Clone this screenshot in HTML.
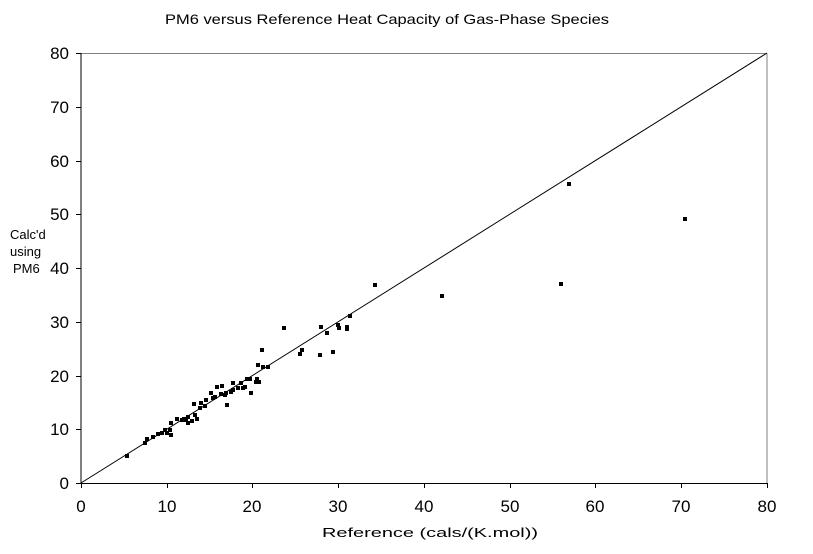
<!DOCTYPE html>
<html><head><style>body{margin:0;background:#fff}svg{display:block}text{font-family:"Liberation Sans",sans-serif;fill:#000}</style></head><body>
<svg width="813" height="554" viewBox="0 0 813 554">
<text x="165" y="24" font-size="14" textLength="444" lengthAdjust="spacingAndGlyphs">PM6 versus Reference Heat Capacity of Gas-Phase Species</text>
<line x1="81" y1="53.5" x2="767" y2="53.5" stroke="#808080"/>
<line x1="767" y1="53.5" x2="767" y2="483" stroke="#808080"/>
<line x1="81" y1="53" x2="81" y2="483.5" stroke="#000"/>
<line x1="81" y1="483.5" x2="767" y2="483.5" stroke="#000"/>
<g stroke="#000">
<line x1="76" y1="53.5" x2="81" y2="53.5"/><line x1="76" y1="107.5" x2="81" y2="107.5"/><line x1="76" y1="161.5" x2="81" y2="161.5"/><line x1="76" y1="214.5" x2="81" y2="214.5"/><line x1="76" y1="268.5" x2="81" y2="268.5"/><line x1="76" y1="322.5" x2="81" y2="322.5"/><line x1="76" y1="376.5" x2="81" y2="376.5"/><line x1="76" y1="429.5" x2="81" y2="429.5"/><line x1="76" y1="483.5" x2="81" y2="483.5"/>
<line x1="81.5" y1="483" x2="81.5" y2="488"/><line x1="167.5" y1="483" x2="167.5" y2="488"/><line x1="252.5" y1="483" x2="252.5" y2="488"/><line x1="338.5" y1="483" x2="338.5" y2="488"/><line x1="424.5" y1="483" x2="424.5" y2="488"/><line x1="510.5" y1="483" x2="510.5" y2="488"/><line x1="595.5" y1="483" x2="595.5" y2="488"/><line x1="681.5" y1="483" x2="681.5" y2="488"/><line x1="767.5" y1="483" x2="767.5" y2="488"/>
<line x1="81" y1="483" x2="767" y2="53"/>
</g>
<g font-size="17" text-anchor="end">
<text x="69" y="59">80</text><text x="69" y="113">70</text><text x="69" y="167">60</text><text x="69" y="220">50</text><text x="69" y="274">40</text><text x="69" y="328">30</text><text x="69" y="382">20</text><text x="69" y="435">10</text><text x="69" y="489">0</text>
</g>
<g font-size="17" text-anchor="middle">
<text x="81" y="512">0</text><text x="167" y="512">10</text><text x="252" y="512">20</text><text x="338" y="512">30</text><text x="424" y="512">40</text><text x="510" y="512">50</text><text x="595" y="512">60</text><text x="681" y="512">70</text><text x="767" y="512">80</text>
</g>
<text x="322" y="537" font-size="13" textLength="216" lengthAdjust="spacingAndGlyphs">Reference (cals/(K.mol))</text>
<text x="10" y="239" font-size="13">Calc'd</text><text x="10" y="256" font-size="13">using</text><text x="13" y="273" font-size="13">PM6</text>
<g fill="#000">
<rect x="125" y="454" width="4" height="4"/><rect x="143" y="441" width="4" height="4"/><rect x="145" y="437" width="4" height="4"/><rect x="151" y="435" width="4" height="4"/><rect x="156" y="432" width="4" height="4"/><rect x="160" y="431" width="4" height="4"/><rect x="163" y="428" width="4" height="4"/><rect x="165" y="431" width="4" height="4"/><rect x="168" y="428" width="4" height="4"/><rect x="169" y="433" width="4" height="4"/><rect x="169" y="421" width="4" height="4"/><rect x="175" y="417" width="4" height="4"/><rect x="180" y="418" width="4" height="4"/><rect x="182" y="417" width="4" height="4"/><rect x="184" y="418" width="4" height="4"/><rect x="186" y="415" width="4" height="4"/><rect x="186" y="421" width="4" height="4"/><rect x="190" y="419" width="4" height="4"/><rect x="193" y="413" width="4" height="4"/><rect x="195" y="417" width="4" height="4"/><rect x="192" y="402" width="4" height="4"/><rect x="198" y="406" width="4" height="4"/><rect x="199" y="401" width="4" height="4"/><rect x="203" y="404" width="4" height="4"/><rect x="204" y="398" width="4" height="4"/><rect x="209" y="391" width="4" height="4"/><rect x="211" y="396" width="4" height="4"/><rect x="213" y="395" width="4" height="4"/><rect x="215" y="385" width="4" height="4"/><rect x="220" y="384" width="4" height="4"/><rect x="219" y="392" width="4" height="4"/><rect x="223" y="393" width="4" height="4"/><rect x="225" y="403" width="4" height="4"/><rect x="224" y="391" width="4" height="4"/><rect x="229" y="390" width="4" height="4"/><rect x="231" y="381" width="4" height="4"/><rect x="231" y="388" width="4" height="4"/><rect x="236" y="386" width="4" height="4"/><rect x="239" y="381" width="4" height="4"/><rect x="241" y="386" width="4" height="4"/><rect x="243" y="385" width="4" height="4"/><rect x="245" y="377" width="4" height="4"/><rect x="248" y="377" width="4" height="4"/><rect x="249" y="391" width="4" height="4"/><rect x="254" y="380" width="4" height="4"/><rect x="255" y="377" width="4" height="4"/><rect x="256" y="363" width="4" height="4"/><rect x="260" y="348" width="4" height="4"/><rect x="261" y="365" width="4" height="4"/><rect x="266" y="365" width="4" height="4"/><rect x="257" y="380" width="4" height="4"/>
<rect x="282" y="326" width="4" height="4"/><rect x="298" y="352" width="4" height="4"/><rect x="300" y="348" width="4" height="4"/><rect x="319" y="325" width="4" height="4"/><rect x="318" y="353" width="4" height="4"/><rect x="325" y="331" width="4" height="4"/><rect x="331" y="350" width="4" height="4"/><rect x="336" y="323" width="4" height="4"/><rect x="337" y="326" width="4" height="4"/><rect x="345" y="325" width="4" height="4"/><rect x="345" y="327" width="4" height="4"/><rect x="348" y="314" width="4" height="4"/><rect x="373" y="283" width="4" height="4"/><rect x="440" y="294" width="4" height="4"/><rect x="559" y="282" width="4" height="4"/><rect x="567" y="182" width="4" height="4"/><rect x="683" y="217" width="4" height="4"/>
</g>
</svg>
</body></html>
